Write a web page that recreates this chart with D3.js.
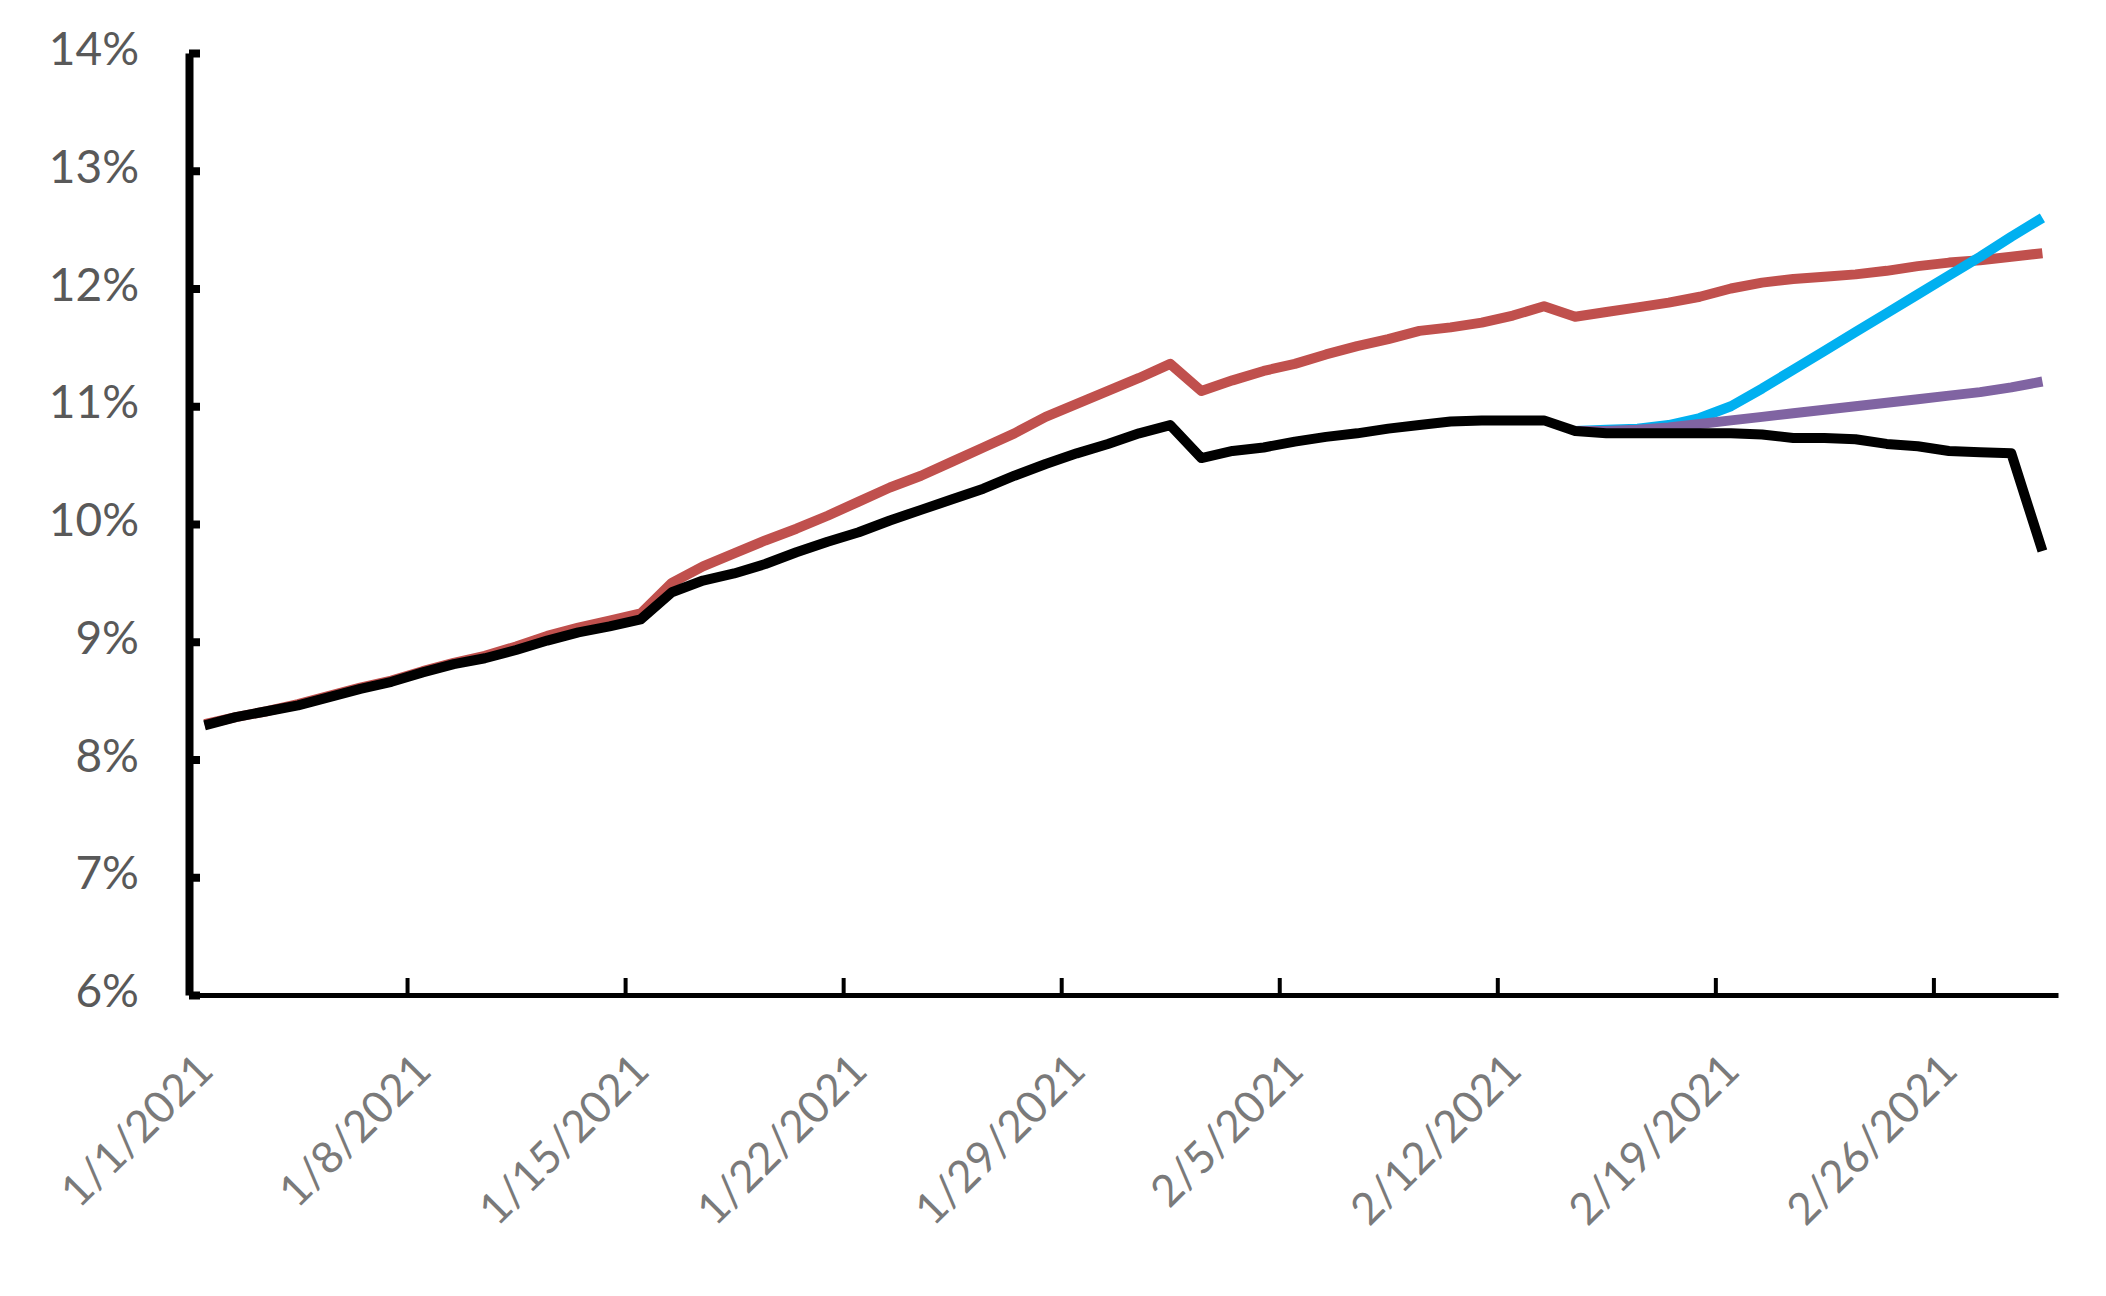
<!DOCTYPE html>
<html>
<head>
<meta charset="utf-8">
<script src="https://cdn.jsdelivr.net/npm/d3@7/dist/d3.min.js"></script>
<style>
  html, body { margin: 0; padding: 0; background: #ffffff; }
  svg { display: block; }
</style>
</head>
<body>
<svg id="chart" width="2106" height="1296"></svg>
<script>
// ---- data (values in %) ----
const startDate = "2021-01-01";
const dayCount = 60; // 1/1/2021 .. 3/1/2021
const yTickValues = [6, 7, 8, 9, 10, 11, 12, 13, 14];
const xTickLabels = ["1/1/2021","1/8/2021","1/15/2021","1/22/2021","1/29/2021","2/5/2021","2/12/2021","2/19/2021","2/26/2021"];

const redSeries = [
  8.30, 8.36, 8.41, 8.47, 8.54, 8.61, 8.67, 8.75, 8.82, 8.88,
  8.96, 9.05, 9.12, 9.18, 9.24, 9.50, 9.64, 9.75, 9.86, 9.96,
  10.07, 10.19, 10.31, 10.41, 10.53, 10.65, 10.77, 10.91, 11.02, 11.13,
  11.24, 11.36, 11.13, 11.22, 11.30, 11.36, 11.44, 11.51, 11.57, 11.64,
  11.67, 11.71, 11.77, 11.85, 11.76, 11.80, 11.84, 11.88, 11.93, 12.00,
  12.05, 12.08, 12.10, 12.12, 12.15, 12.19, 12.22, 12.24, 12.27, 12.30
];
const blackSeries = [
  8.29, 8.36, 8.41, 8.46, 8.53, 8.60, 8.66, 8.74, 8.81, 8.86,
  8.93, 9.01, 9.08, 9.13, 9.19, 9.42, 9.52, 9.58, 9.66, 9.76,
  9.85, 9.93, 10.03, 10.12, 10.21, 10.30, 10.41, 10.51, 10.60, 10.68,
  10.77, 10.84, 10.56, 10.62, 10.65, 10.70, 10.74, 10.77, 10.81, 10.84,
  10.87, 10.88, 10.88, 10.88, 10.79, 10.77, 10.77, 10.77, 10.77, 10.77,
  10.76, 10.73, 10.73, 10.72, 10.68, 10.66, 10.62, 10.61, 10.60, 9.77
];
// scenario series start at day index 44 (2/14/2021)
const scenarioStart = 44;
const blueSeries = [
  10.79, 10.80, 10.81, 10.84, 10.90, 11.00, 11.15, 11.31, 11.47, 11.63,
  11.79, 11.95, 12.11, 12.27, 12.44, 12.60
];
const purpleSeries = [
  10.79, 10.79, 10.80, 10.82, 10.85, 10.88, 10.91, 10.94, 10.97, 11.00,
  11.03, 11.06, 11.09, 11.12, 11.16, 11.21
];

// ---- setup ----
const svg = d3.select("#chart");
const parse = d3.utcParse("%Y-%m-%d");
const d0 = parse(startDate);
const dates = d3.range(dayCount).map(i => d3.utcDay.offset(d0, i));
const xEnd = d3.utcDay.offset(d0, dayCount); // 3/2/2021, end of the last day's slot

const x = d3.scaleUtc().domain([d0, xEnd]).range([189, 2058]);
const y = d3.scaleLinear().domain([6, 14]).range([995, 53]);

// points sit in the middle of each day's slot
const px = d => x(d3.utcHour.offset(d, 12));

function toPoints(vals, offset) {
  return vals.map((v, i) => ({ date: dates[i + offset], v }));
}

const line = d3.line().x(p => px(p.date)).y(p => y(p.v));

// ---- axes ----
const yAxis = d3.axisLeft(y)
  .tickValues(yTickValues)
  .tickFormat(d => d + "%")
  .tickSizeInner(-11)
  .tickSizeOuter(0)
  .tickPadding(50);

const gy = svg.append("g").attr("transform", "translate(189,0)").call(yAxis);
gy.select(".domain").attr("stroke", "#000").attr("stroke-width", 8);
gy.selectAll(".tick line").attr("stroke", "#000").attr("stroke-width", 8);
gy.selectAll(".tick text")
  .attr("fill", "#595959")
  .style("font-family", "Lato, 'Open Sans', sans-serif")
  .style("font-size", "46px")
  .attr("dy", "0.25em");

const xTickDates = xTickLabels.map(s => d3.utcParse("%m/%d/%Y")(s));
const xAxis = d3.axisBottom(x)
  .tickValues(xTickDates)
  .tickFormat((d, i) => xTickLabels[i])
  .tickSizeInner(-17)
  .tickSizeOuter(0)
  .tickPadding(0);

const gx = svg.append("g").attr("transform", "translate(0,995)").call(xAxis);
gx.select(".domain").attr("stroke", "#000").attr("stroke-width", 5);
gx.selectAll(".tick line").attr("stroke", "#000").attr("stroke-width", 4);
gx.selectAll(".tick text")
  .attr("fill", "#7a7a7a")
  .style("font-family", "Lato, 'Open Sans', sans-serif")
  .style("font-size", "44px")
  .attr("text-anchor", "end")
  .attr("y", 0)
  .attr("dy", 0)
  .attr("transform", "translate(26,78) rotate(-45)");

// ---- lines ----
const seriesList = [
  { vals: redSeries, offset: 0, color: "#C0504D" },
  { vals: blueSeries, offset: scenarioStart, color: "#00B0F0" },
  { vals: purpleSeries, offset: scenarioStart, color: "#8064A2" },
  { vals: blackSeries, offset: 0, color: "#000000" }
];

svg.append("g").selectAll("path")
  .data(seriesList)
  .join("path")
  .attr("d", s => line(toPoints(s.vals, s.offset)))
  .attr("fill", "none")
  .attr("stroke", s => s.color)
  .attr("stroke-width", 10)
  .attr("stroke-linejoin", "round")
  .attr("stroke-linecap", "butt");
</script>
</body>
</html>
